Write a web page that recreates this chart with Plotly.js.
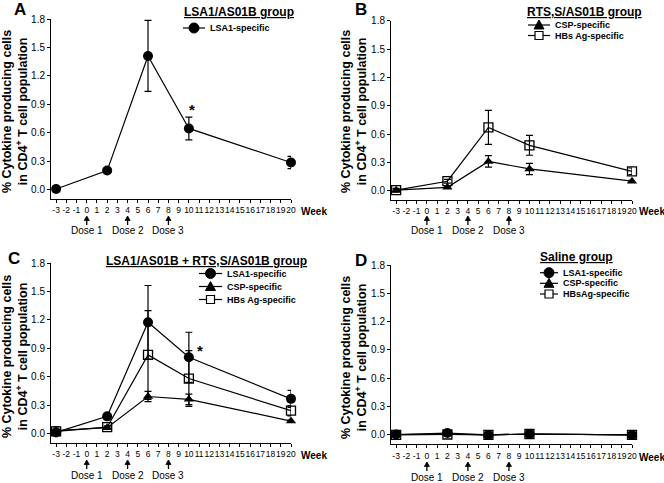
<!DOCTYPE html>
<html><head><meta charset="utf-8">
<script src="https://cdn.plot.ly/plotly-3.0.1.min.js"></script>
<style>html,body{margin:0;padding:0;background:#fff}#chart{width:664px;height:483px}</style>
</head><body><div id="chart"></div>
<script>
// ---- data ----
const weeks = [-3, 2, 6, 10, 20];
const weekTicks = [-3,-2,-1,0,1,2,3,4,5,6,7,8,9,10,11,12,13,14,15,16,17,18,19,20];
const yTicks = [0, 0.3, 0.6, 0.9, 1.2, 1.5, 1.8];
const doseWeeks = [0, 4, 8];
const doseLabels = ['Dose 1', 'Dose 2', 'Dose 3'];

const a_lsa1 = [0.005, 0.20, 1.41, 0.645, 0.285];
const a_lsa1_err = [0.01, 0.025, 0.375, 0.12, 0.065];

const b_csp = [0.005, 0.035, 0.31, 0.23, 0.10];
const b_csp_err = [0.01, 0.01, 0.06, 0.06, 0.01];
const b_hbs = [0.005, 0.10, 0.67, 0.48, 0.205];
const b_hbs_err = [0.02, 0.02, 0.18, 0.105, 0.035];

const c_lsa1 = [0.01, 0.18, 1.175, 0.805, 0.365];
const c_lsa1_err = [0.01, 0.01, 0.39, 0.265, 0.09];
const c_csp = [0.03, 0.06, 0.39, 0.36, 0.13];
const c_csp_err = [0.04, 0.01, 0.055, 0.055, 0.01];
const c_hbs = [0.02, 0.065, 0.83, 0.58, 0.24];
const c_hbs_err = [0.015, 0.015, 0.47, 0.295, 0.055];

const d_lsa1 = [0.005, 0.02, 0.0, 0.01, 0.0];
const d_csp = [0.005, 0.01, 0.0, 0.01, 0.0];
const d_hbs = [0.0, 0.005, 0.0, 0.01, 0.0];
const d_err = [0.005, 0.005, 0.005, 0.005, 0.005];

// ---- helpers ----
const W = 664, H = 483;
const X = p => p / W;
const Y = p => 1 - p / H;
const FONT = 'Liberation Sans, Arial, sans-serif';

const styles = {
  circle: {symbol: 'circle', size: 10, color: 'black'},
  tri: {symbol: 'triangle-up', size: 9, color: 'black'},
  sq: {symbol: 'square-open', size: 9, color: 'black', line: {color: 'black', width: 1.3}}
};

function tr(xa, ya, yv, err, st, name) {
  return {
    x: weeks, y: yv, xaxis: xa, yaxis: ya, name: name, type: 'scatter', mode: 'lines+markers',
    line: {color: 'black', width: 1.2}, marker: styles[st], cliponaxis: false, showlegend: false,
    error_y: {type: 'data', array: err, visible: true, color: 'black', thickness: 1.2, width: 3.5}
  };
}

const data = [
  tr('x', 'y', a_lsa1, a_lsa1_err, 'circle', 'LSA1-specific'),
  tr('x2', 'y2', b_csp, b_csp_err, 'tri', 'CSP-specific'),
  tr('x2', 'y2', b_hbs, b_hbs_err, 'sq', 'HBs Ag-specific'),
  tr('x3', 'y3', c_csp, c_csp_err, 'tri', 'CSP-specific'),
  tr('x3', 'y3', c_hbs, c_hbs_err, 'sq', 'HBs Ag-specific'),
  tr('x3', 'y3', c_lsa1, c_lsa1_err, 'circle', 'LSA1-specific'),
  tr('x4', 'y4', d_hbs, d_err, 'sq', 'HBsAg-specific'),
  tr('x4', 'y4', d_csp, d_err, 'tri', 'CSP-specific'),
  tr('x4', 'y4', d_lsa1, d_err, 'circle', 'LSA1-specific')
];

const panels = [
  {xa: 'x', ya: 'y', xd: [51, 291], yd: [19, 199], letter: 'A', lp: [20, 9],
   title: 'LSA1/AS01B group', tp: [239, 12], yt: [15, 112], week: [299, 211], arrowY: [216, 225], doseY: 230,
   legend: {x0: 183, x1: 205, tx: 208, items: [['circle', 28, 'LSA1-specific']]}},
  {xa: 'x2', ya: 'y2', xd: [391, 632], yd: [20.7, 200.1], letter: 'B', lp: [361, 9],
   title: 'RTS,S/AS01B group', tp: [584, 12], yt: [354, 112], week: [637, 211], arrowY: [216, 225], doseY: 230,
   legend: {x0: 528, x1: 550, tx: 553, items: [['tri', 25, 'CSP-specific'], ['sq', 35.5, 'HBs Ag-specific']]}},
  {xa: 'x3', ya: 'y3', xd: [51, 291], yd: [263.3, 442.8], letter: 'C', lp: [14, 258],
   title: 'LSA1/AS01B + RTS,S/AS01B group', tp: [206, 261], yt: [15, 357], week: [299, 455], arrowY: [460, 469], doseY: 475,
   legend: {x0: 199, x1: 222, tx: 225, items: [['circle', 273.5, 'LSA1-specific'], ['tri', 286.5, 'CSP-specific'], ['sq', 299.5, 'HBs Ag-specific']]}},
  {xa: 'x4', ya: 'y4', xd: [391, 632], yd: [265, 444.4], letter: 'D', lp: [361, 260],
   title: 'Saline group', tp: [576, 257], yt: [354, 358], week: [637, 457], arrowY: [462, 471], doseY: 477,
   legend: {x0: 540, x1: 558, tx: 561, items: [['circle', 272.7, 'LSA1-specific'], ['tri', 283.3, 'CSP-specific'], ['sq', 294, 'HBsAg-specific']]}}
];

const layout = {
  width: W, height: H, margin: {l: 0, r: 0, t: 0, b: 0},
  paper_bgcolor: 'white', plot_bgcolor: 'white', showlegend: false,
  font: {family: FONT, color: 'black'},
  annotations: [], shapes: []
};

panels.forEach(p => {
  const xk = 'xaxis' + (p.xa === 'x' ? '' : p.xa.slice(1));
  const yk = 'yaxis' + (p.ya === 'y' ? '' : p.ya.slice(1));
  layout[xk] = {
    domain: [X(p.xd[0]), X(p.xd[1])], anchor: p.ya, range: [-3.5, 20],
    tickmode: 'array', tickvals: weekTicks, ticktext: weekTicks.map(String), tickangle: 0,
    showgrid: false, zeroline: false, showline: true, linecolor: 'black', linewidth: 1,
    ticks: 'outside', ticklen: 3, tickwidth: 1, tickcolor: 'black',
    tickfont: {size: 8.5, family: FONT, color: 'black'}, automargin: false, fixedrange: true
  };
  layout[yk] = {
    domain: [Y(p.yd[1]), Y(p.yd[0])], anchor: p.xa, range: [-0.1, 1.8],
    tickmode: 'array', tickvals: yTicks, ticktext: yTicks.map(v => v.toFixed(1)),
    showgrid: false, zeroline: false, showline: true, linecolor: 'black', linewidth: 1,
    ticks: 'outside', ticklen: 3, tickwidth: 1, tickcolor: 'black',
    tickfont: {size: 10, family: FONT, color: 'black'}, automargin: false, fixedrange: true
  };
  const A = layout.annotations, S = layout.shapes;
  A.push({xref: 'paper', yref: 'paper', x: X(p.lp[0]), y: Y(p.lp[1]), text: '<b>' + p.letter + '</b>',
    showarrow: false, xanchor: 'center', yanchor: 'middle', font: {size: 17, family: FONT}});
  A.push({xref: 'paper', yref: 'paper', x: X(p.tp[0]), y: Y(p.tp[1]), text: '<b><u>' + p.title + '</u></b>',
    showarrow: false, xanchor: 'center', yanchor: 'middle', font: {size: 12, family: FONT}});
  A.push({xref: 'paper', yref: 'paper', x: X(p.yt[0]), y: Y(p.yt[1]), textangle: -90,
    text: '<b>% Cytokine producing cells<br>in CD4<sup>+</sup> T cell population</b>',
    showarrow: false, xanchor: 'center', yanchor: 'middle', font: {size: 12.5, family: FONT}});
  A.push({xref: 'paper', yref: 'paper', x: X(p.week[0]), y: Y(p.week[1]), text: '<b>Week</b>',
    showarrow: false, xanchor: 'left', yanchor: 'middle', font: {size: 10, family: FONT}});
  doseWeeks.forEach((w, i) => {
    S.push({type: 'line', xref: p.xa, yref: 'paper', x0: w, x1: w, y0: Y(p.arrowY[1]), y1: Y(p.arrowY[0] + 1),
      line: {color: 'black', width: 1.3}});
    const hw = 0.25, hy = p.arrowY[0] + 4.5;
    S.push({type: 'path', xref: p.xa, yref: 'paper',
      path: 'M' + (w - hw) + ',' + Y(hy) + ' L' + w + ',' + Y(p.arrowY[0]) + ' L' + (w + hw) + ',' + Y(hy) + ' Z',
      fillcolor: 'black', line: {color: 'black', width: 0.8}});
    A.push({xref: p.xa, yref: 'paper', x: w, y: Y(p.doseY), text: doseLabels[i],
      showarrow: false, xanchor: 'center', yanchor: 'middle', font: {size: 10, family: FONT}});
  });
  const L = p.legend, cx = (L.x0 + L.x1) / 2;
  L.items.forEach(it => {
    const [sym, yy, label] = it;
    S.push({type: 'line', xref: 'paper', yref: 'paper', x0: X(L.x0), x1: X(L.x1), y0: Y(yy), y1: Y(yy),
      line: {color: 'black', width: 1.2}});
    if (sym === 'circle') {
      S.push({type: 'circle', xref: 'paper', yref: 'paper', x0: X(cx - 5), x1: X(cx + 5), y0: Y(yy + 5), y1: Y(yy - 5),
        fillcolor: 'black', line: {color: 'black', width: 1}});
    } else if (sym === 'sq') {
      S.push({type: 'rect', xref: 'paper', yref: 'paper', x0: X(cx - 4), x1: X(cx + 4), y0: Y(yy + 4), y1: Y(yy - 4),
        fillcolor: 'white', line: {color: 'black', width: 1.2}});
    } else {
      const path = 'M' + X(cx - 5) + ',' + Y(yy + 4) + ' L' + X(cx + 5) + ',' + Y(yy + 4) + ' L' + X(cx) + ',' + Y(yy - 5) + ' Z';
      S.push({type: 'path', xref: 'paper', yref: 'paper', path: path, fillcolor: 'black', line: {color: 'black', width: 1}});
    }
    A.push({xref: 'paper', yref: 'paper', x: X(L.tx), y: Y(yy), text: '<b>' + label + '</b>',
      showarrow: false, xanchor: 'left', yanchor: 'middle', font: {size: 9, family: FONT}});
  });
});

layout.annotations.push({xref: 'x', yref: 'y', x: 10.3, y: 0.84, text: '<b>*</b>', showarrow: false,
  xanchor: 'center', yanchor: 'middle', font: {size: 15, family: FONT}});
layout.annotations.push({xref: 'x3', yref: 'y3', x: 11.1, y: 0.88, text: '<b>*</b>', showarrow: false,
  xanchor: 'center', yanchor: 'middle', font: {size: 15, family: FONT}});

Plotly.newPlot('chart', data, layout, {staticPlot: true, displayModeBar: false});
</script>
</body></html>
